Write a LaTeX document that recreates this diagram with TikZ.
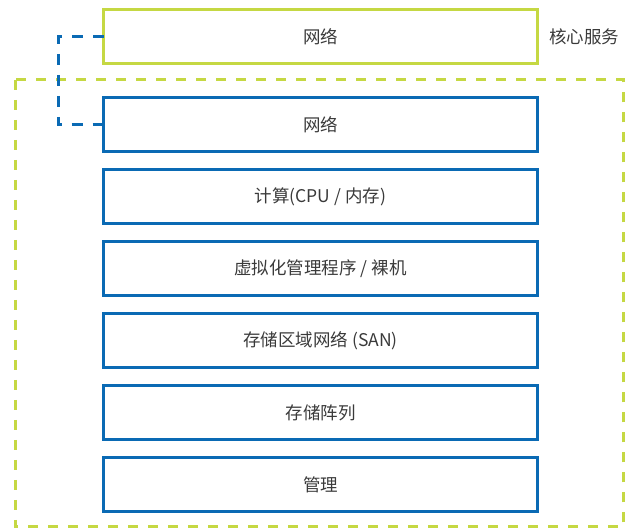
\documentclass[tikz,border=0pt]{standalone}
\usepackage{fontspec}
\setmainfont{Noto Sans CJK SC}
\definecolor{lime}{HTML}{C5D843}
\definecolor{vblue}{HTML}{0A6AB4}
\definecolor{txt}{HTML}{3A3A3A}
\begin{document}
\begin{tikzpicture}[x=1pt,y=-1pt,
  lbl/.style={text=txt,font=\fontsize{17.5}{20}\selectfont},
  layer/.style={lbl,draw=vblue,line width=3pt,outer sep=0pt,minimum width=434pt,minimum height=54pt,inner sep=0pt,anchor=north west},
  corebox/.style={layer,draw=lime},
  bluedash/.style={draw=vblue,line width=3pt,dash pattern=on 11pt off 10pt},
  limedash/.style={draw=lime,line width=3pt,dash pattern=on 10pt off 10pt}]
\useasboundingbox (0,0) rectangle (625,529);
\draw[limedash] (15,80) rectangle (623.5,527);
\node[corebox] (core) at (103.5,9.5) {网络};
\node[lbl,anchor=west,inner sep=0pt] (svc) at (549,37) {核心服务};
\node[layer] (net) at (103.5,97.5) {网络};
\node[layer] (cpu) at (103.5,169.5) {计算(CPU / 内存)};
\node[layer] (hyp) at (103.5,241.5) {虚拟化管理程序 / 裸机};
\node[layer] (san) at (103.5,313.5) {存储区域网络 (SAN)};
\node[layer] (arr) at (103.5,385.5) {存储阵列};
\node[layer] (mgmt) at (103.5,457.5) {管理};
\coordinate (c1) at (58,0);
\draw[bluedash] (core.west) -- (core.west -| c1) -- (net.west -| c1) -- (net.west);
\end{tikzpicture}
\end{document}
